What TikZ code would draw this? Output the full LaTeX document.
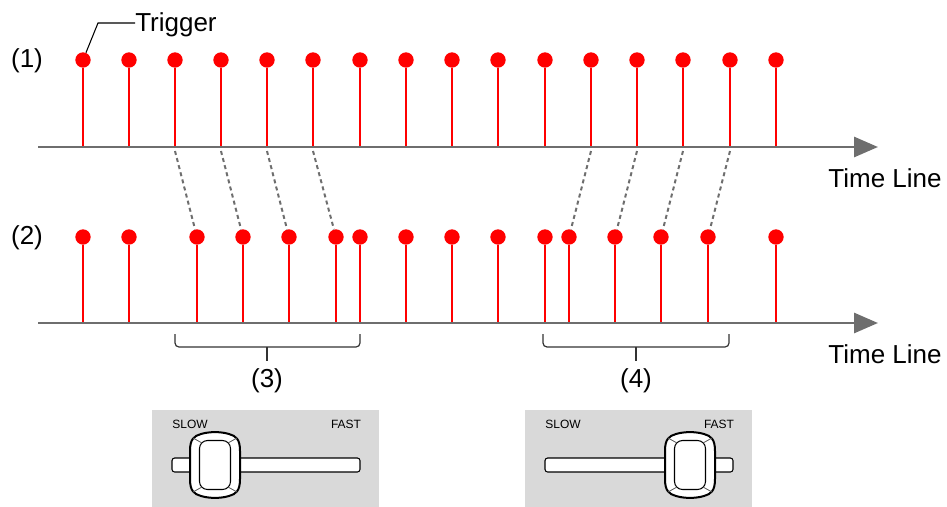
\documentclass[tikz,border=0pt]{standalone}
\usepackage{fontspec}
\setmainfont{Liberation Sans}
\usepackage{xcolor}
\usetikzlibrary{arrows.meta,positioning}
\definecolor{axisgray}{HTML}{6E6E6E}

\begin{document}
\begin{tikzpicture}[x=0.75pt, y=0.75pt,
    dot/.style={circle, fill=red, inner sep=0pt, minimum size=11.5pt},
    stem/.style={draw=red, line width=2pt},
    axis/.style={draw=axisgray, line width=2.2pt, -{Triangle[length=18pt, width=15pt]}},
    link/.style={draw=axisgray, line width=1.5pt, dash pattern=on 3pt off 2.5pt},
    brace/.style={draw=black!80, line width=0.9pt, rounded corners=3pt},
    leader/.style={draw=black, line width=0.8pt},
    lbl/.style={font=\fontsize{19.5}{22}\selectfont, inner sep=0pt},
    small/.style={font=\fontsize{9}{10}\selectfont, inner sep=0pt}
]
\useasboundingbox (0,0) rectangle (947,-507);
\newcommand{\slider}[3]{% name, panel left, knob centre
    \begin{scope}[shift={(#2,-465)}]
    \fill[black!15] (0,55) rectangle (227,-42);
    \node[small] (#1slow) at (38,41) {SLOW};
    \node[small] (#1fast) at (194,41) {FAST};
    \draw[fill=white, line width=0.8pt, rounded corners=2pt] (20,7) rectangle (208,-7);
    \begin{scope}[shift={(#3,0)}]
    \draw[fill=white, line width=1.5pt] (-25,-14) -- (-25,14)
        .. controls (-25,26) and (-21,29) .. (-14,31)
        .. controls (-6,33.5) and (6,33.5) .. (14,31)
        .. controls (21,29) and (25,26) .. (25,14) -- (25,-14)
        .. controls (25,-26) and (21,-29) .. (14,-31)
        .. controls (6,-33.5) and (-6,-33.5) .. (-14,-31)
        .. controls (-21,-29) and (-25,-26) .. (-25,-14) -- cycle;
    \draw[fill=white, line width=0.8pt, rounded corners=6pt] (-15.5,-24.5) rectangle (15.5,24.5);
    \draw[black!65, line width=0.6pt] (-13,22) -- (-22,27) (13,22) -- (22,27)
        (-13,-22) -- (-22,-27) (13,-22) -- (22,-27);
    \end{scope}
    \end{scope}
}

% row (1)
\foreach \x [count=\i] in {83,129,175,221,267,313,360,406,452,498,545,591,637,683,730,776} {
    \coordinate (ta\i) at (\x,-147);
    \node[dot] (t\i) at (\x,-60) {};
    \draw[stem] (ta\i) -- (t\i);
}
\draw[axis] (38,-147) -- (878,-147);

% row (2)
\foreach \x [count=\i] in {83,129,197,243,289,336,360,406,452,498,545,569,615,661,708,776} {
    \coordinate (ba\i) at (\x,-323);
    \node[dot] (b\i) at (\x,-237) {};
    \draw[stem] (ba\i) -- (b\i);
}
\draw[axis] (38,-323) -- (878,-323);

\foreach \i in {3,4,5,6,12,13,14,15}
    \draw[link] ([yshift=-3pt]ta\i) -- (b\i);

\node[lbl] (r1) at (27,-61) {(1)};
\node[lbl] (r2) at (27,-238) {(2)};
\node[lbl] (tl1) at (885,-178) {Time Line};
\node[lbl] (tl2) at (885,-354) {Time Line};

\node[lbl, anchor=west] (trg) at (135,-25) {Trigger};
\coordinate (tk) at (98,-23);
\draw[leader] (t1) -- (tk) -- (trg.west |- tk);

% brackets
\draw[brace] (175,-334) -- (175,-347) -- (360,-347) -- (360,-334);
\draw[brace] (267,-347) -- (267,-361);
\node[lbl] (g3) at (267,-381) {(3)};
\draw[brace] (543,-334) -- (543,-347) -- (729,-347) -- (729,-334);
\draw[brace] (636,-347) -- (636,-361);
\node[lbl] (g4) at (636,-381) {(4)};

\slider{slw}{152}{63}
\slider{fst}{525}{165}
\end{tikzpicture}
\end{document}
